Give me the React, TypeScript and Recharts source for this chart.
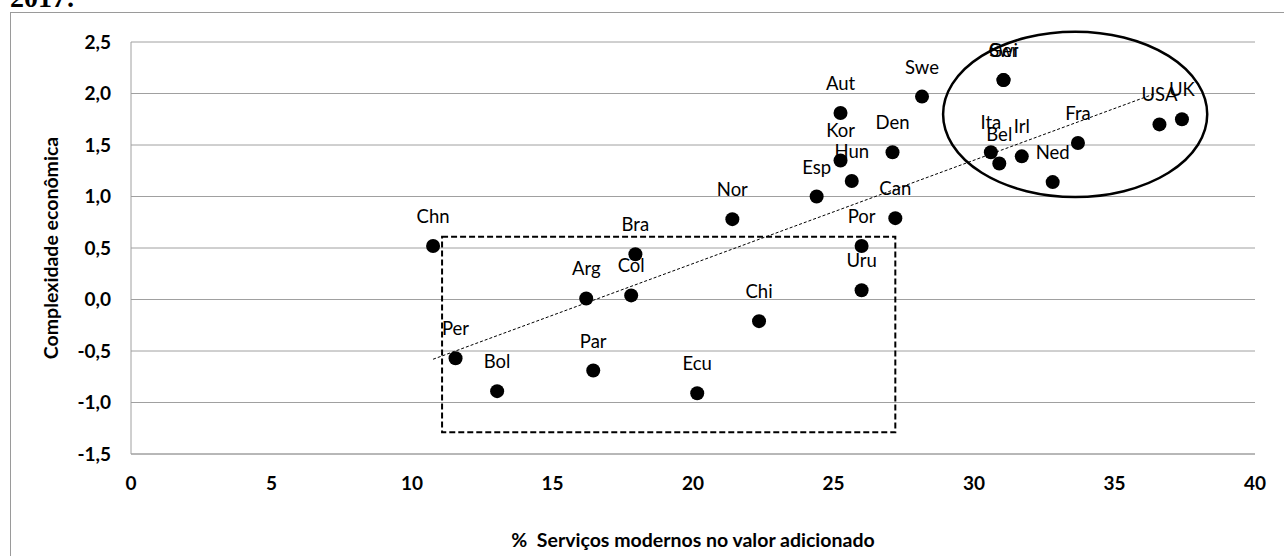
import {
  ScatterChart,
  Scatter,
  XAxis,
  YAxis,
  CartesianGrid,
  ReferenceArea,
  ReferenceLine,
} from 'recharts';

// países e valores
const COUNTRIES = [
  'Chn', 'Per', 'Bol', 'Arg', 'Col', 'Bra', 'Par', 'Ecu', 'Chi', 'Nor', 'Uru', 'Por', 'Can', 'Esp',
  'Hun', 'Kor', 'Aut', 'Den', 'Swe', 'Ger', 'Swi', 'Ita', 'Bel', 'Irl', 'Ned', 'Fra', 'USA', 'UK',
];
const MODERN_SERVICES = [
  10.75, 11.55, 13.03, 16.2, 17.8, 17.95, 16.45, 20.15, 22.35, 21.4, 26.0, 26.0, 27.2, 24.4,
  25.65, 25.25, 25.25, 27.1, 28.15, 31.05, 31.05, 30.6, 30.9, 31.7, 32.8, 33.7, 36.6, 37.4,
];
const COMPLEXITY = [
  0.52, -0.57, -0.89, 0.01, 0.04, 0.44, -0.69, -0.91, -0.21, 0.78, 0.09, 0.52, 0.79, 1.0,
  1.15, 1.35, 1.81, 1.43, 1.97, 2.13, 2.13, 1.43, 1.32, 1.39, 1.14, 1.52, 1.7, 1.75,
];

const X_TICKS = [0, 5, 10, 15, 20, 25, 30, 35, 40];
const Y_TICKS = [-1.5, -1, -0.5, 0, 0.5, 1, 1.5, 2, 2.5];

// linha de tendência (extremos)
const TREND_X = [10.75, 36.45];
const TREND_Y = [-0.58, 2.0];

// retângulo tracejado (América Latina) e elipse (economias avançadas)
const BOX_X = [11.07, 27.2];
const BOX_Y = [-1.29, 0.61];
const ELLIPSE_X = [28.9, 38.3];
const ELLIPSE_Y = [0.995, 2.6];

const FONT = 'Lato, "Open Sans", sans-serif';
const GRID = '#A0A0A0';

const data = COUNTRIES.map((name, i) => ({
  name,
  x: MODERN_SERVICES[i],
  y: COMPLEXITY[i],
}));

const fmt = (v: number) => v.toFixed(1).replace('.', ',');

function CountryDot(props: any) {
  const { cx, cy, payload } = props;
  return (
    <g>
      <circle cx={cx} cy={cy} r={7} fill="#000" />
      <text
        x={cx}
        y={cy - 30}
        textAnchor="middle"
        dominantBaseline="central"
        fontSize={18.5}
        fontFamily={FONT}
        fill="#000"
      >
        {payload.name}
      </text>
    </g>
  );
}

function EllipseShape(props: any) {
  const { x, y, width, height } = props;
  return (
    <ellipse
      cx={x + width / 2}
      cy={y + height / 2}
      rx={Math.abs(width) / 2}
      ry={Math.abs(height) / 2}
      fill="none"
      stroke="#000"
      strokeWidth={2.5}
    />
  );
}

const tickStyle = { fill: '#000', fontSize: 19, fontWeight: 700, fontFamily: FONT };

export default function App() {
  return (
    <div
      style={{
        position: 'fixed',
        left: 0,
        top: 0,
        width: 1284,
        height: 556,
        overflow: 'hidden',
        background: '#fff',
      }}
    >
      <svg width={1284} height={556} style={{ position: 'absolute', left: 0, top: 0 }}>
        <text
          x={10}
          y={7}
          fontFamily='"Liberation Serif", "Times New Roman", serif'
          fontWeight={700}
          fontSize={28}
          fill="#000"
        >
          2017:
        </text>
        <rect x={10.5} y={12.5} width={1400} height={700} fill="none" stroke="#9a9a9a" />
      </svg>
      <div style={{ position: 'absolute', left: 0, top: 0 }}>
        <ScatterChart
          width={1284}
          height={556}
          margin={{ top: 42, right: 29, left: 20, bottom: 72 }}
        >
          <CartesianGrid horizontal vertical={false} stroke={GRID} />
          <XAxis
            type="number"
            dataKey="x"
            domain={[0, 40]}
            ticks={X_TICKS}
            allowDataOverflow
            axisLine={{ stroke: GRID }}
            tickLine={false}
            tickMargin={17}
            tick={tickStyle}
            label={{
              value: '%\u00A0 Serviços modernos no valor adicionado',
              position: 'bottom',
              offset: 49,
              fill: '#000',
              fontSize: 19.5,
              fontWeight: 700,
              fontFamily: FONT,
            }}
          />
          <YAxis
            type="number"
            dataKey="y"
            domain={[-1.5, 2.5]}
            ticks={Y_TICKS}
            allowDataOverflow
            width={111}
            axisLine={{ stroke: GRID }}
            tickLine={false}
            tickMargin={14}
            tick={tickStyle}
            tickFormatter={fmt}
            label={{
              value: 'Complexidade econômica',
              angle: -90,
              position: 'insideLeft',
              offset: 31,
              fill: '#000',
              fontSize: 19.5,
              fontWeight: 700,
              fontFamily: FONT,
              style: { textAnchor: 'middle' },
            }}
          />
          <ReferenceArea
            x1={BOX_X[0]}
            x2={BOX_X[1]}
            y1={BOX_Y[0]}
            y2={BOX_Y[1]}
            fill="none"
            stroke="#000"
            strokeWidth={2}
            strokeDasharray="6 3"
            ifOverflow="visible"
          />
          <ReferenceArea
            x1={ELLIPSE_X[0]}
            x2={ELLIPSE_X[1]}
            y1={ELLIPSE_Y[0]}
            y2={ELLIPSE_Y[1]}
            ifOverflow="visible"
            shape={<EllipseShape />}
          />
          <ReferenceLine
            segment={[
              { x: TREND_X[0], y: TREND_Y[0] },
              { x: TREND_X[1], y: TREND_Y[1] },
            ]}
            stroke="#000"
            strokeWidth={1}
            strokeDasharray="3 2"
            ifOverflow="visible"
          />
          <Scatter data={data} shape={<CountryDot />} isAnimationActive={false} />
        </ScatterChart>
      </div>
    </div>
  );
}
